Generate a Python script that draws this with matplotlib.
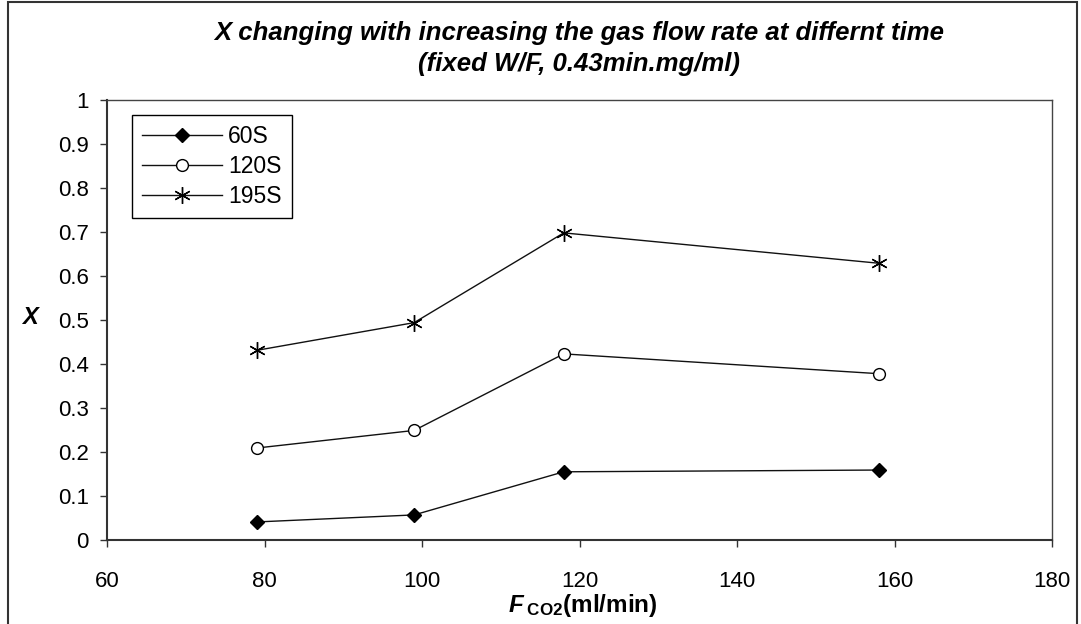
import matplotlib
matplotlib.use("Agg")
import matplotlib.pyplot as plt
from matplotlib.patches import Rectangle

# gas flow rate (ml/min) and X at each time
flow = [79, 99, 118, 158]
x_60s = [0.041, 0.057, 0.155, 0.159]
x_120s = [0.209, 0.249, 0.423, 0.378]
x_195s = [0.431, 0.494, 0.698, 0.629]
series_names = ["60S", "120S", "195S"]
x_ticks = [60, 80, 100, 120, 140, 160, 180]
y_ticks = [0, 0.1, 0.2, 0.3, 0.4, 0.5, 0.6, 0.7, 0.8, 0.9, 1]
y_tick_labels = ["0", "0.1", "0.2", "0.3", "0.4", "0.5", "0.6", "0.7", "0.8", "0.9", "1"]

plt.rcParams['font.family'] = ['Liberation Sans', 'DejaVu Sans']
plt.rcParams['mathtext.fontset'] = 'custom'
plt.rcParams['mathtext.rm'] = 'Liberation Sans'
plt.rcParams['mathtext.it'] = 'Liberation Sans:italic'
plt.rcParams['mathtext.bf'] = 'Liberation Sans:bold'
plt.rcParams['mathtext.bfit'] = 'Liberation Sans:bold:italic'

W, H = 1081, 624
fig = plt.figure(figsize=(W / 100, H / 100), dpi=100)
ax = fig.add_axes([107 / W, 1 - 540 / H, 945 / W, 440 / H])

# outer chart frame
fig.patches.append(Rectangle((8 / W, -0.01), (1077 - 8) / W, 1.01 - 2 / H,
                             transform=fig.transFigure, fill=False,
                             edgecolor='#333333', linewidth=1.5))

lc = '#111111'
ax.plot(flow, x_60s, color=lc, lw=1, marker='D', ms=7.5, mfc='black', mec='black',
        label=series_names[0])
ax.plot(flow, x_120s, color=lc, lw=1, marker='o', ms=8.5, mfc='white', mec='black',
        mew=1, label=series_names[1])
ax.plot(flow, x_195s, color=lc, lw=1, marker=(6, 2, 0), ms=12, mec='black',
        mew=1, label=series_names[2])

ax.set_xlim(60, 180)
ax.set_ylim(0, 1)
ax.set_xticks(x_ticks)
ax.set_yticks(y_ticks)
ax.set_yticklabels(y_tick_labels)
ax.tick_params(axis='both', direction='out', length=5, width=1, color='#333333',
               labelsize=16)
ax.tick_params(axis='x', pad=17)
ax.tick_params(axis='y', pad=8)

for s in ['left', 'bottom']:
    ax.spines[s].set_color('#333333')
    ax.spines[s].set_linewidth(1.5)
for s in ['top', 'right']:
    ax.spines[s].set_color('#444444')
    ax.spines[s].set_linewidth(1)

ax.set_title("X changing with increasing the gas flow rate at differnt time\n"
             "(fixed W/F, 0.43min.mg/ml)",
             fontsize=18.5, fontweight='bold', fontstyle='italic', linespacing=1.36, pad=21)

ax.set_ylabel("X", fontsize=17, fontweight='bold', fontstyle='italic', rotation=0,
              ha='center', va='center')
ax.yaxis.set_label_coords(-0.0815, 0.505)
ax.set_xlabel(r"$\mathbfit{F}_{\;\mathbf{CO2}}$" + "(ml/min)", fontsize=17.5,
              fontweight='bold', va='center')
ax.xaxis.set_label_coords(0.504, -0.148)

leg = ax.legend(loc='upper left', bbox_to_anchor=(0.026, 0.966), borderaxespad=0,
                fancybox=False, edgecolor='black', framealpha=1, fontsize=16.5,
                handlelength=3.5, handletextpad=0.26, labelspacing=0.3,
                borderpad=0.45)
leg.get_frame().set_linewidth(1)

fig.savefig("out.png", dpi=100)
